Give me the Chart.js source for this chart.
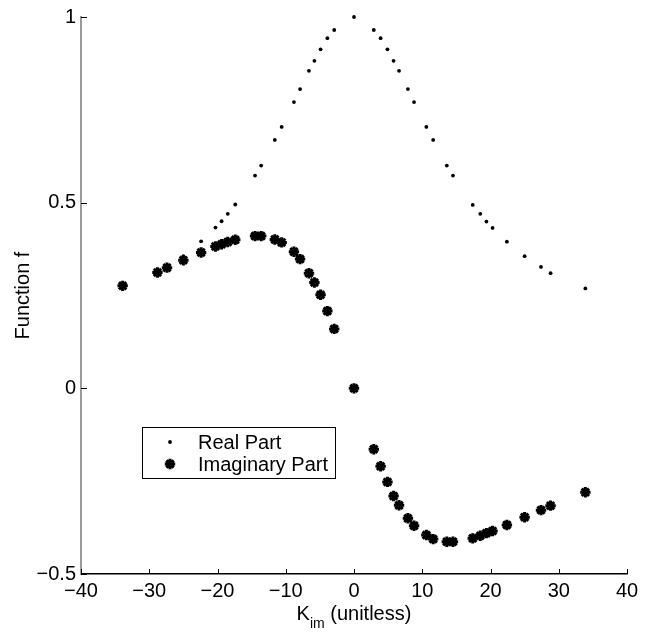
<!DOCTYPE html>
<html lang="en">
<head>
<meta charset="UTF-8">
<title>Function f vs K_im</title>
<script src="https://cdn.jsdelivr.net/npm/chart.js"></script>
<style>
html,body{margin:0;padding:0;background:#fff;}
#wrap{width:651px;height:632px;}
</style>
</head>
<body>

<div id="wrap"><canvas id="fChart" width="651" height="632"></canvas></div>

<script>
// K_im sample points (same for both series)
const kValues = [-33.9,-28.8,-27.4,-25.0,-22.4,-20.3,-19.4,-18.5,-17.4,-14.5,-13.6,-11.6,-10.6,-8.8,-7.9,-6.6,-5.8,-4.9,-3.9,-2.9,
                 0,
                 2.9,3.9,4.9,5.8,6.6,7.9,8.8,10.6,11.6,13.6,14.5,17.4,18.5,19.4,20.3,22.4,25.0,27.4,28.8,33.9];

const realPart = [0.270,0.310,0.327,0.356,0.396,0.433,0.450,0.470,0.495,0.573,0.600,0.669,0.704,0.771,0.806,0.855,0.882,0.913,0.943,0.965,
                  1.000,
                  0.965,0.943,0.913,0.882,0.855,0.806,0.771,0.704,0.669,0.600,0.573,0.494,0.470,0.449,0.432,0.395,0.356,0.327,0.310,0.269];

const imagPart = [0.276,0.312,0.325,0.345,0.366,0.382,0.388,0.394,0.400,0.410,0.410,0.401,0.393,0.368,0.348,0.310,0.285,0.252,0.208,0.160,
                  0.000,
                  -0.164,-0.210,-0.252,-0.290,-0.315,-0.350,-0.370,-0.395,-0.406,-0.413,-0.413,-0.404,-0.397,-0.390,-0.384,-0.368,-0.347,-0.328,-0.316,-0.280];

const xTicks = [-40,-30,-20,-10,0,10,20,30,40];
const yTicks = [-0.5,0,0.5,1];
const seriesNames = ["Real Part","Imaginary Part"];

const FONT = "'Liberation Sans', Arial, Helvetica, sans-serif";

function toPoints(ys){ return kValues.map((k,i)=>({x:k, y:ys[i]})); }
function minusSign(v){ return String(v).replace("-","\u2212"); }

// inward tick marks, axis titles and the boxed legend
const decorations = {
    id:"decorations",
    afterDraw(chart){
        const ctx = chart.ctx, a = chart.chartArea;
        const xs = chart.scales.x, ys = chart.scales.y;
        ctx.save();

        ctx.strokeStyle = "#000";
        ctx.lineWidth = 1;
        xTicks.forEach(t=>{
            const px = Math.round(xs.getPixelForValue(t))+0.5;
            ctx.beginPath(); ctx.moveTo(px,a.bottom); ctx.lineTo(px,a.bottom-5); ctx.stroke();
        });
        yTicks.forEach(t=>{
            const py = Math.round(ys.getPixelForValue(t))+0.5;
            ctx.beginPath(); ctx.moveTo(a.left,py); ctx.lineTo(a.left+6,py); ctx.stroke();
        });

        // x title with subscript
        ctx.fillStyle = "#000";
        ctx.textBaseline = "alphabetic";
        ctx.textAlign = "left";
        const big = "20px "+FONT, small = "14px "+FONT;
        ctx.font = big;  const wK = ctx.measureText("K").width;
        ctx.font = small; const wSub = ctx.measureText("im").width;
        ctx.font = big;  const wRest = ctx.measureText(" (unitless)").width;
        let x0 = (a.left+a.right)/2 - (wK+wSub+wRest)/2;
        ctx.font = big;  ctx.fillText("K", x0, 620);
        ctx.font = small; ctx.fillText("im", x0+wK, 628);
        ctx.font = big;  ctx.fillText(" (unitless)", x0+wK+wSub, 620);

        // y title
        ctx.save();
        ctx.translate(23,(a.top+a.bottom)/2);
        ctx.rotate(-Math.PI/2);
        ctx.textAlign = "center";
        ctx.textBaseline = "middle";
        ctx.font = "20px "+FONT;
        ctx.fillText("Function f",0,0);
        ctx.restore();

        // legend box
        ctx.fillStyle = "#fff";
        ctx.fillRect(142,427,193,51);
        ctx.strokeStyle = "#000";
        ctx.lineWidth = 1;
        ctx.strokeRect(142.5,427.5,193,51);
        ctx.font = "20px "+FONT;
        ctx.textAlign = "left";
        ctx.textBaseline = "middle";
        const rows = [442,464];
        chart.data.datasets.forEach((ds,i)=>{
            ctx.fillStyle = "#000";
            ctx.strokeStyle = "#000";
            ctx.lineWidth = ds.borderWidth;
            Chart.helpers.drawPoint(ctx,{
                pointStyle: ds.pointStyle, radius: ds.pointRadius, borderWidth: ds.borderWidth, rotation:0
            },170,rows[i]);
            ctx.fillText(seriesNames[i],198,rows[i]+1);
        });

        ctx.restore();
    }
};

const chart = new Chart(document.getElementById("fChart").getContext("2d"),{
    type:"scatter",
    data:{
        datasets:[
            {label:seriesNames[0], data:toPoints(realPart), pointStyle:"circle", pointRadius:1.9,
             backgroundColor:"#000", borderColor:"#000", borderWidth:0, order:1},
            {label:seriesNames[1], data:toPoints(imagPart), pointStyle:"star", pointRadius:5.2,
             backgroundColor:"#000", borderColor:"#000", borderWidth:3, order:0}
        ]
    },
    options:{
        responsive:false,
        animation:false,
        events:[],
        clip:false,
        layout:{padding:{left:0,right:24,top:17,bottom:0}},
        plugins:{legend:{display:false}, tooltip:{enabled:false}},
        scales:{
            x:{
                type:"linear", min:-40, max:40,
                afterBuildTicks(s){ s.ticks = xTicks.map(v=>({value:v})); },
                afterFit(s){ s.height = 58; },
                grid:{display:false, drawTicks:false},
                border:{display:true, color:"#000", width:1.5},
                ticks:{color:"#000", padding:5, maxRotation:0, font:{family:FONT,size:20},
                       callback:v=>minusSign(v)}
            },
            y:{
                type:"linear", min:-0.5, max:1,
                afterBuildTicks(s){ s.ticks = yTicks.map(v=>({value:v})); },
                afterFit(s){ s.width = 81; },
                grid:{display:false, drawTicks:false},
                border:{display:true, color:"#9a9a9a", width:2},
                ticks:{color:"#000", padding:5, font:{family:FONT,size:20},
                       callback:v=>minusSign(v)}
            }
        }
    },
    plugins:[decorations]
});
</script>

</body>
</html>
